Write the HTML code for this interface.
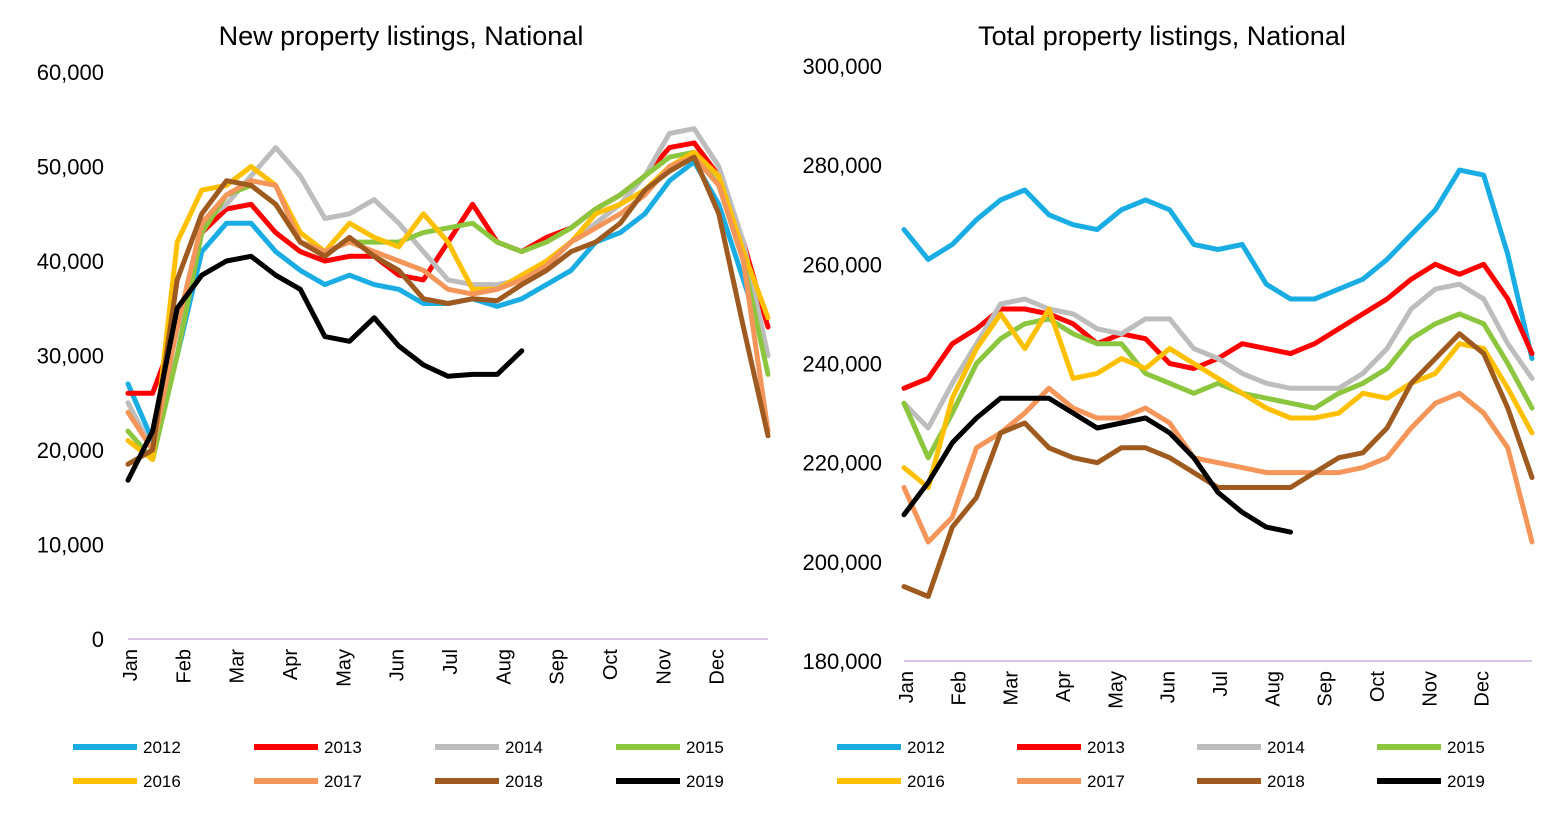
<!DOCTYPE html>
<html><head><meta charset="utf-8">
<style>
body{margin:0;background:#fff;width:1561px;height:814px;overflow:hidden;font-family:"Liberation Sans",sans-serif;}
svg text{font-family:"Liberation Sans",sans-serif;}
</style></head>
<body>
<svg id="chart" width="1561" height="814" xmlns="http://www.w3.org/2000/svg"></svg>
<script>
const months = ["Jan","Feb","Mar","Apr","May","Jun","Jul","Aug","Sep","Oct","Nov","Dec"];
const years = ["2012","2013","2014","2015","2016","2017","2018","2019"];
const colors = ["#1AADE4","#FF0000","#BDBDBD","#8CC63F","#FFC000","#F4955A","#9E5A1F","#000000"];
// New listings (thousands), biweekly
const newL2012 = [27,21,30,41,44,44,41,39,37.5,38.5,37.5,37,35.5,35.5,36,35.2,36,37.5,39,42,43,45,48.5,50.5,46,38,30];
const newL2013 = [26,26,33,43,45.5,46,43,41,40,40.5,40.5,38.5,38,42,46,42,41,42.5,43.5,45.5,47,49,52,52.5,49,42,33];
const newL2014 = [25,20,30,44,46,49,52,49,44.5,45,46.5,44,41,38,37.5,37.5,38,40,42,44,46,49,53.5,54,50,42,30];
const newL2015 = [22,19,30,43,47,48,46,42,41,42,42,42,43,43.5,44,42,41,42,43.5,45.5,47,49,51,51.5,48,40,28];
const newL2016 = [21,19,42,47.5,48,50,48,43,41,44,42.5,41.5,45,42,37,37,38.5,40,42,45,46,47.5,50,51.5,49,41,34];
const newL2017 = [24,20,33,44,47,48.5,48,42,41,42,41,40,39,37,36.5,37,38,39.5,42,43.5,45,47,50,51,48,40,22];
const newL2018 = [18.5,20,38,45,48.5,48,46,42,40.5,42.5,40.5,39,36,35.5,36,35.8,37.5,39,41,42,44,47.5,49.5,51,45,33,21.5];
const newL2019 = [16.8,22,35,38.5,40,40.5,38.5,37,32,31.5,34,31,29,27.8,28,28,30.5];
// Total listings (thousands), biweekly
const totL2012 = [267,261,264,269,273,275,270,268,267,271,273,271,264,263,264,256,253,253,255,257,261,266,271,279,278,262,241];
const totL2013 = [235,237,244,247,251,251,250,248,244,246,245,240,239,241,244,243,242,244,247,250,253,257,260,258,260,253,242];
const totL2014 = [232,227,236,244,252,253,251,250,247,246,249,249,243,241,238,236,235,235,235,238,243,251,255,256,253,244,237];
const totL2015 = [232,221,230,240,245,248,249,246,244,244,238,236,234,236,234,233,232,231,234,236,239,245,248,250,248,240,231];
const totL2016 = [219,215,233,243,250,243,251,237,238,241,239,243,240,237,234,231,229,229,230,234,233,236,238,244,243,235,226];
const totL2017 = [215,204,209,223,226,230,235,231,229,229,231,228,221,220,219,218,218,218,218,219,221,227,232,234,230,223,204];
const totL2018 = [195,193,207,213,226,228,223,221,220,223,223,221,218,215,215,215,215,218,221,222,227,236,241,246,242,231,217];
const totL2019 = [209.5,216,224,229,233,233,233,230,227,228,229,226,221,214,210,207,206];
const newTicks = [0,10,20,30,40,50,60];
const totTicks = [180,200,220,240,260,280,300];

const svg = document.getElementById('chart');
const NS = "http://www.w3.org/2000/svg";
function mk(tag, attrs, parent){const e=document.createElementNS(NS,tag);for(const k in attrs)e.setAttribute(k,attrs[k]);(parent||svg).appendChild(e);return e;}

function drawChart(cfg){
  const g = mk('g',{});
  
  
  const yS = v => cfg.y0 + (v-cfg.tmin)/(cfg.tmax-cfg.tmin)*(cfg.y1-cfg.y0);
  const xS = i => cfg.x0 + i*(cfg.x1-cfg.x0)/26;
  const t = mk('text',{x:cfg.titleX,y:45,'font-size':27,'text-anchor':'middle',fill:'#000'},g);
  t.textContent = cfg.title;
  
  
  cfg.ticks.forEach(v=>{
    const tx = mk('text',{x:cfg.labelX,y:yS(v)+8,'font-size':22,'text-anchor':'end',fill:'#000'},g);
    tx.textContent = v===0?'0':(v*1000).toLocaleString('en-US');
    
    
  });
  const ax = mk('line',{x1:cfg.x0,x2:cfg.x1,y1:yS(cfg.tmin),y2:yS(cfg.tmin),stroke:'#D9C3E6','stroke-width':2},g);
  
  
  months.forEach((m,i)=>{
    const x = cfg.x0 + 2 + i*(cfg.x1-cfg.x0)/12;
    const tx = mk('text',{x:0,y:0,'font-size':20,'text-anchor':'end',fill:'#000',transform:`translate(${x+7},${yS(cfg.tmin)+10}) rotate(-90)`},g);
    tx.textContent = m;
    
    
  });
  cfg.series.forEach((s,k)=>{
    const pts = s.map((v,i)=>xS(i).toFixed(1)+','+yS(v).toFixed(1)).join(' ');
    const p = mk('polyline',{points:pts,fill:'none',stroke:colors[k],'stroke-width':5,'stroke-linejoin':'round','stroke-linecap':'round'},g);
    
    
  });
  years.forEach((yr,k)=>{
    const col=k%4,row=Math.floor(k/4);
    const lx = cfg.legX + col*cfg.legStep, ly = 747 + row*34;
    const lg = mk('g',{},g);
    
    
    mk('line',{x1:lx,x2:lx+64,y1:ly,y2:ly,stroke:colors[k],'stroke-width':6},lg);
    const tx = mk('text',{x:lx+70,y:ly+6,'font-size':17,fill:'#000'},lg);
    tx.textContent = yr;
  });
}
drawChart({name:'new-listings-chart',title:'New property listings, National',titleX:401,x0:128,x1:768,y0:639,y1:72,tmin:0,tmax:60,ticks:newTicks,labelX:104,
  series:[newL2012,newL2013,newL2014,newL2015,newL2016,newL2017,newL2018,newL2019],legX:73,legStep:181});
drawChart({name:'total-listings-chart',title:'Total property listings, National',titleX:1162,x0:904,x1:1532,y0:661,y1:66,tmin:180,tmax:300,ticks:totTicks,labelX:882,
  series:[totL2012,totL2013,totL2014,totL2015,totL2016,totL2017,totL2018,totL2019],legX:837,legStep:180});
</script>
</body></html>
